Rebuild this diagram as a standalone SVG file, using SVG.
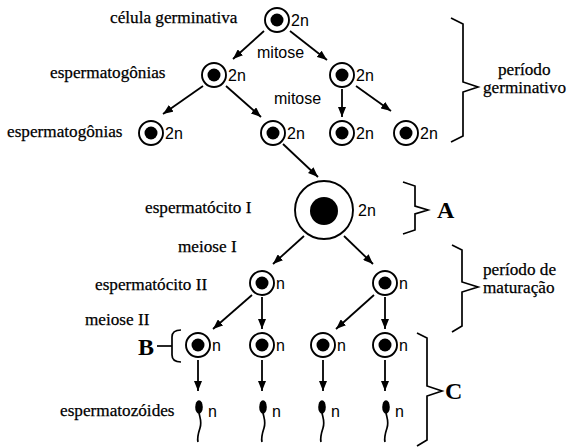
<svg xmlns="http://www.w3.org/2000/svg" width="569" height="448" viewBox="0 0 569 448">
  <defs>
    <style>
      .o { fill: none; stroke: #000; stroke-width: 1.9; }
      .nuc { fill: #000; }
      .sans { font-family: "Liberation Sans", Arial, sans-serif; font-size: 16px; fill: #000; }
      .ser { font-family: "Liberation Serif", "Times New Roman", serif; font-size: 17.2px; fill: #000; stroke: #000; stroke-width: 0.25; }
      .big { font-family: "Liberation Serif", "Times New Roman", serif; font-size: 24px; font-weight: bold; fill: #000; }
      .ln { stroke: #000; stroke-width: 1.8; fill: none; marker-end: url(#ah); }
      .br { stroke: #000; stroke-width: 1.7; fill: none; stroke-linejoin: miter; }
      .tail { stroke: #000; stroke-width: 1.7; fill: none; }
    </style>
    <marker id="ah" viewBox="0 0 10 8" refX="10" refY="4" markerWidth="10" markerHeight="8" markerUnits="userSpaceOnUse" orient="auto">
      <path d="M0,0 L10,4 L0,8 z" fill="#000"/>
    </marker>
    <g id="cell">
      <circle class="o" r="12"/>
      <circle class="nuc" r="6.5"/>
    </g>
    <g id="sperm">
      <ellipse class="nuc" cx="0" cy="0" rx="3.8" ry="6.8"/>
      <path class="tail" d="M0,6 C1,11 3,15 1,21 C-1,27 -2,31 -1,35"/>
    </g>
  </defs>

  <rect width="569" height="448" fill="#fff"/>

  <!-- connectors -->
  <g id="connectors">
    <line class="ln" x1="264" y1="31" x2="233" y2="59"/>
    <line class="ln" x1="290" y1="31" x2="327" y2="60"/>
    <line class="ln" x1="203" y1="86" x2="163" y2="114"/>
    <line class="ln" x1="226" y1="86" x2="261" y2="117"/>
    <line class="ln" x1="342" y1="89" x2="342" y2="117"/>
    <line class="ln" x1="356" y1="86" x2="391" y2="111"/>
    <line class="ln" x1="283" y1="144" x2="318" y2="177"/>
    <line class="ln" x1="304" y1="236" x2="273" y2="264"/>
    <line class="ln" x1="344" y1="236" x2="373" y2="264"/>
    <line class="ln" x1="252" y1="295" x2="213" y2="329"/>
    <line class="ln" x1="262" y1="297" x2="262" y2="329"/>
    <line class="ln" x1="374" y1="295" x2="336" y2="329"/>
    <line class="ln" x1="385" y1="297" x2="385" y2="329"/>
    <line class="ln" x1="198" y1="360" x2="198" y2="391"/>
    <line class="ln" x1="262" y1="360" x2="262" y2="391"/>
    <line class="ln" x1="323" y1="360" x2="323" y2="391"/>
    <line class="ln" x1="385" y1="360" x2="385" y2="391"/>
  </g>

  <!-- germ cell -->
  <g id="celula-germinativa">
    <use href="#cell" x="277" y="20"/>
    <text class="sans" x="291" y="26">2n</text>
    <text class="ser" x="110" y="23">célula germinativa</text>
  </g>
  <text class="sans" x="257" y="58">mitose</text>
  <text class="sans" x="274" y="104">mitose</text>

  <!-- spermatogonia -->
  <g id="espermatogonia-1">
    <use href="#cell" x="214" y="75"/>
    <text class="sans" x="228" y="81">2n</text>
    <text class="ser" x="50" y="78">espermatogônias</text>
  </g>
  <g id="espermatogonia-2">
    <use href="#cell" x="342" y="75"/>
    <text class="sans" x="356" y="81">2n</text>
  </g>
  <g id="espermatogonia-3">
    <use href="#cell" x="151" y="133"/>
    <text class="sans" x="165" y="139">2n</text>
    <text class="ser" x="7" y="137">espermatogônias</text>
  </g>
  <g id="espermatogonia-4">
    <use href="#cell" x="273" y="133"/>
    <text class="sans" x="287" y="139">2n</text>
  </g>
  <g id="espermatogonia-5">
    <use href="#cell" x="342" y="133"/>
    <text class="sans" x="356" y="139">2n</text>
  </g>
  <g id="espermatogonia-6">
    <use href="#cell" x="406" y="133"/>
    <text class="sans" x="420" y="139">2n</text>
  </g>

  <!-- primary spermatocyte -->
  <g id="espermatocito-1">
    <circle class="o" cx="324" cy="210" r="29"/>
    <circle class="nuc" cx="324" cy="211" r="14"/>
    <text class="sans" x="358" y="216">2n</text>
    <text class="ser" x="145" y="213">espermatócito I</text>
  </g>
  <text class="ser" x="178" y="252">meiose I</text>

  <!-- secondary spermatocytes -->
  <g id="espermatocito-2a">
    <use href="#cell" x="262" y="283"/>
    <text class="sans" x="276" y="289">n</text>
    <text class="ser" x="95" y="290">espermatócito II</text>
  </g>
  <g id="espermatocito-2b">
    <use href="#cell" x="385" y="283"/>
    <text class="sans" x="399" y="289">n</text>
  </g>
  <text class="ser" x="85" y="325">meiose II</text>

  <!-- spermatids -->
  <g id="espermatide-1">
    <use href="#cell" x="198" y="345"/>
    <text class="sans" x="212" y="351">n</text>
  </g>
  <g id="espermatide-2">
    <use href="#cell" x="262" y="345"/>
    <text class="sans" x="276" y="351">n</text>
  </g>
  <g id="espermatide-3">
    <use href="#cell" x="323" y="345"/>
    <text class="sans" x="337" y="351">n</text>
  </g>
  <g id="espermatide-4">
    <use href="#cell" x="385" y="345"/>
    <text class="sans" x="399" y="351">n</text>
  </g>

  <!-- spermatozoa -->
  <g id="espermatozoide-1">
    <use href="#sperm" x="199" y="407"/>
    <text class="sans" x="208" y="417">n</text>
    <text class="ser" x="60" y="416">espermatozóides</text>
  </g>
  <g id="espermatozoide-2">
    <use href="#sperm" x="263" y="407"/>
    <text class="sans" x="272" y="417">n</text>
  </g>
  <g id="espermatozoide-3">
    <use href="#sperm" x="322" y="407"/>
    <text class="sans" x="331" y="417">n</text>
  </g>
  <g id="espermatozoide-4">
    <use href="#sperm" x="386" y="407"/>
    <text class="sans" x="395" y="417">n</text>
  </g>

  <!-- braces and period labels -->
  <g id="periodo-germinativo">
    <path class="br" d="M451,18 L463,24 L463,82 L478,87 L463,92 L463,136 L451,142"/>
    <text class="ser" x="498" y="75">período</text>
    <text class="ser" x="483" y="93">germinativo</text>
  </g>
  <g id="chave-A">
    <path class="br" d="M403,182 L415,186 L415,206 L428,210 L415,214 L415,230 L403,234"/>
    <text class="big" x="437" y="218">A</text>
  </g>
  <g id="periodo-maturacao">
    <path class="br" d="M452,245 L462,250 L462,282 L478,287 L462,292 L462,326 L452,332"/>
    <text class="ser" x="483" y="275">período de</text>
    <text class="ser" x="483" y="293">maturação</text>
  </g>
  <g id="chave-B">
    <path class="br" d="M181,330 Q172,330 172,337 L172,355 Q172,362 181,362"/>
    <line class="br" x1="157" y1="346" x2="172" y2="346"/>
    <text class="big" x="138" y="355">B</text>
  </g>
  <g id="chave-C">
    <path class="br" d="M417,333 L427,338 L427,386 L442,391 L427,396 L427,440 L417,446"/>
    <text class="big" x="445" y="399">C</text>
  </g>
</svg>
